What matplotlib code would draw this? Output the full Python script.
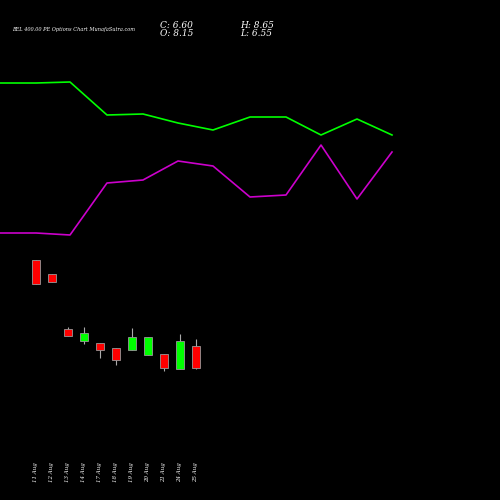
import matplotlib
matplotlib.use("Agg")
import matplotlib.pyplot as plt

dates = ["11 Aug","12 Aug","13 Aug","14 Aug","17 Aug","18 Aug","19 Aug","20 Aug","21 Aug","24 Aug","25 Aug"]
opens = [14.24,13.25,9.35,8.47,8.36,8.01,7.87,7.52,7.59,6.53,8.15]
closes= [12.55,12.69,8.89,9.06,7.90,7.16,8.78,8.78,6.60,8.50,6.60]
highs = [14.24,13.25,9.49,9.49,8.36,8.01,9.42,8.78,7.59,9.00,8.65]
lows  = [12.55,12.69,8.89,8.29,7.30,6.81,7.87,7.52,6.39,6.53,6.55]

line_x = [0,36,70,107,143,178,213,250,286,321,357,392]
green_line = [417,417,418,385,386,377,370,383,383,365,381,365]
purple_line= [267,267,265,317,320,339,334,303,305,355,301,348]

fig = plt.figure(figsize=(5,5), dpi=100, facecolor="black")
axl = fig.add_axes([0,0,1,1]); axl.set_facecolor("black")
axl.set_xlim(0,500); axl.set_ylim(0,500); axl.axis("off")
axl.plot(line_x, green_line, color="#00ff00", lw=1.2)
axl.plot(line_x, purple_line, color="#cc00cc", lw=1.2)

ax = fig.add_axes([0,0,1,1]); ax.patch.set_alpha(0)
ax.set_xlim(-2.25,29); ax.set_ylim(-2.696,32.52); ax.axis("off")
for i,(o,c,h,l) in enumerate(zip(opens,closes,highs,lows)):
    col = "#00ff00" if c>o else "#ff0000"
    ax.vlines(i,l,h,color="#aaaaaa",lw=0.8,zorder=1)
    ax.bar(i,abs(c-o),bottom=min(o,c),width=0.55,color=col,edgecolor="#999999",lw=0.6,zorder=2)
    fig.text((36+16*i)/500, 0.036, dates[i], rotation=90, color="white", fontsize=4,
             fontstyle="italic", family="DejaVu Serif", ha="center", va="bottom")

fig.text(0.024,0.938,"BEL 400.00 PE Options Chart MunafaSutra.com",color="white",fontsize=3.6,family="DejaVu Serif",fontstyle="italic")
fig.text(0.32,0.945,"C: 6.60",color="white",fontsize=6.5,family="DejaVu Serif",fontstyle="italic")
fig.text(0.32,0.927,"O: 8.15",color="white",fontsize=6.5,family="DejaVu Serif",fontstyle="italic")
fig.text(0.48,0.945,"H: 8.65",color="white",fontsize=6.5,family="DejaVu Serif",fontstyle="italic")
fig.text(0.48,0.927,"L: 6.55",color="white",fontsize=6.5,family="DejaVu Serif",fontstyle="italic")
fig.savefig("out.png", dpi=100, facecolor="black")
